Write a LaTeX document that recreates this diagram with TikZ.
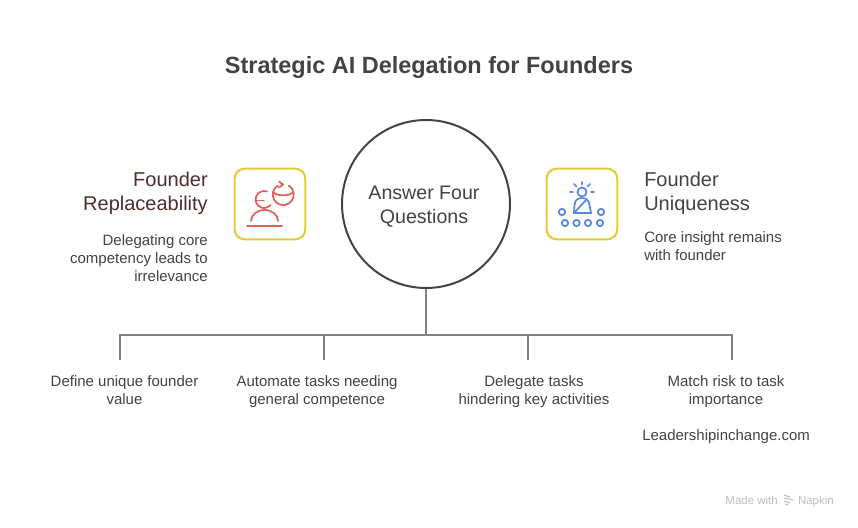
\documentclass[tikz,border=0pt]{standalone}
\usepackage{fontspec}
\setmainfont{Liberation Sans}
\usepackage{xcolor}
\usetikzlibrary{positioning, arrows.meta, calc}
\definecolor{NapText}{RGB}{67,67,67}
\definecolor{NapBrown}{RGB}{78,46,42}
\definecolor{NapLine}{RGB}{130,130,130}
\definecolor{NapGold}{RGB}{226,204,62}
\definecolor{NapRed}{RGB}{226,96,92}
\definecolor{NapBlue}{RGB}{86,138,222}
\definecolor{NapMark}{RGB}{190,190,190}

\begin{document}
\begin{tikzpicture}[x=0.75pt, y=-0.75pt,
          iconbox/.style={rectangle, rounded corners=7.5pt, minimum width=53pt,
                      minimum height=53pt, draw=NapGold, line width=1.6pt, fill=white},
          headtxt/.style={font=\fontsize{15}{18}\selectfont, inner sep=0pt},
          desctxt/.style={font=\fontsize{11.25}{13.5}\selectfont, text=NapText, inner sep=0pt},
          leaf/.style={desctxt, align=center, anchor=north},
          tree/.style={draw=NapLine, line width=1pt},
          redicon/.style={draw=NapRed, line width=1.3pt, line cap=round},
          blueicon/.style={draw=NapBlue, line width=1.3pt, line cap=round},
          marktxt/.style={font=\fontsize{8.6}{10}\selectfont, text=NapMark, inner sep=0pt}
        ]
        \useasboundingbox (0,0) rectangle (858,528);
        \fill[white] (0,0) rectangle (858,528);

        \node[font=\fontsize{17.6}{22}\selectfont\bfseries, text=NapText, inner sep=0pt]
              (title) at (429, 67.5) {Strategic AI Delegation for Founders};

        % Centre circle
        \node[circle, draw=NapText, line width=1.5pt, minimum size=126pt] (hub) at (426, 204) {};
        \node[font=\fontsize{14.7}{18}\selectfont, text=NapText, inner sep=0pt, align=center]
              (hubtxt) at (424, 207) {Answer Four\\Questions};

        % Left side
        \node[iconbox] (boxl) at (270, 204) {};
        \node[headtxt, text=NapBrown, align=right, anchor=north east]
              (repl) at (208, 172) {Founder\\Replaceability};
        \node[desctxt, align=right, anchor=north east]
              (repld) at (208, 234) {Delegating core\\competency leads to\\irrelevance};

        % Right side
        \node[iconbox] (boxr) at (582, 204) {};
        \node[headtxt, text=NapText, align=left, anchor=north west]
              (uniq) at (644, 172) {Founder\\Uniqueness};
        \node[desctxt, align=left, anchor=north west]
              (uniqd) at (644, 231.5) {Core insight remains\\with founder};

        % Red icon
        \draw[redicon] (247,226) -- (282,226);
        \draw[redicon] (251,221) arc[start angle=180, end angle=360, x radius=13.5, y radius=11];
        \draw[redicon] (267,191.5) arc[start angle=-70, end angle=-320, radius=8.5];
        \draw[redicon] (256,200.5) -- (264,200.5);
        \draw[redicon] (278,185.5) arc[start angle=-120, end angle=-420, radius=10.5];
        \draw[redicon] (273,192) .. controls (277,196.5) and (289,196.5) .. (293.5,192);
        \draw[redicon] (279,181.5) -- (283,184.5) -- (279,187.5);

        % Blue icon
        \draw[blueicon] (582,192) circle[radius=4.5];
        \draw[blueicon] (574,213) -- (574.5,205) .. controls (575,200) and (578,198) .. (582,198)
              .. controls (586,198) and (589,200) .. (589.5,205) -- (591,213) -- cycle;
        \draw[blueicon] (574,213) -- (586,200);
        \foreach \a/\b/\c/\d in {582/182/582/184.5, 574/184/576.5/186.5, 590/184/587.5/186.5,
                                 570/192/573/192, 591/192/594/192}
          \draw[blueicon] (\a,\b) -- (\c,\d);
        \foreach \a/\b in {562/212, 601/212, 565/223, 576.5/223, 588/223, 600/223}
          \draw[blueicon] (\a,\b) circle[radius=3.2];

        % Tree below the circle
        \coordinate (joint) at (426, 335);
        \coordinate (d1) at (120, 360);
        \coordinate (d2) at (324, 360);
        \coordinate (d3) at (528, 360);
        \coordinate (d4) at (732, 360);
        \draw[tree] (hub.south) -- (joint);
        \draw[tree] (d1) |- (joint);
        \draw[tree] (d2) |- (joint);
        \draw[tree] (d3) |- (joint);
        \draw[tree] (d4) |- (joint);

        \node[leaf] (q1) at (124.5, 375) {Define unique founder\\value};
        \node[leaf] (q2) at (317, 375) {Automate tasks needing\\general competence};
        \node[leaf] (q3) at (534, 375) {Delegate tasks\\hindering key activities};
        \node[leaf] (q4) at (726, 375) {Match risk to task\\importance};
        \node[desctxt, anchor=north west] (site) at (642, 429) {Leadershipinchange.com};

        % Watermark
        \node[marktxt, anchor=base east] (made) at (778, 504) {Made with};
        \node[marktxt, anchor=base east] (napkin) at (834, 504) {Napkin};
        \foreach \a/\b/\c/\d in {784/495/790/497, 784/498/793/500, 784/501/790/503, 785/504/788/505}
          \draw[NapMark, line width=0.8pt] (\a,\b) -- (\c,\d);
      \end{tikzpicture}
\end{document}
